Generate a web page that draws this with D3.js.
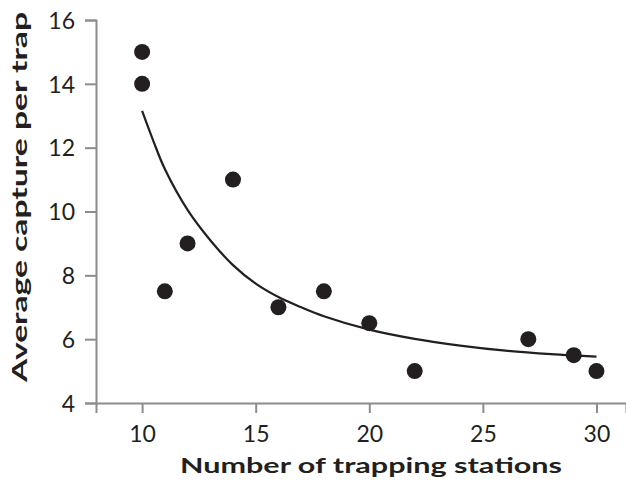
<!DOCTYPE html>
<html>
<head>
<meta charset="utf-8">
<script src="https://cdn.jsdelivr.net/npm/d3@7"></script>
<style>
  body { margin: 0; background: #fff; }
  text { font-family: Lato, "Open Sans", sans-serif; fill: #231f20; }
</style>
</head>
<body>
<div id="chart"></div>
<script>
// scatter of trap captures with the fitted curve
const width = 626;
const height = 487;
const margin = {left: 96, right: 0, top: 20, bottom: 84};

// observed points
const stations = [10, 10, 11, 12, 14, 16, 18, 20, 22, 27, 29, 30];
const capture = [15, 14, 7.5, 9, 11, 7, 7.5, 6.5, 5, 6, 5.5, 5];

// fitted curve
const fitX = [10, 10.5, 11, 12, 13, 14, 15, 16, 17, 18, 20, 22, 24, 26, 28, 30];
const fitY = [13.15, 12.2, 11.33, 10.05, 9.1, 8.32, 7.74, 7.32, 7.0, 6.72, 6.3, 6.01, 5.8, 5.64, 5.53, 5.45];

const xTicks = [10, 15, 20, 25, 30];
const yTicks = [4, 6, 8, 10, 12, 14, 16];

const svg = d3.select("#chart")
  .append("svg")
  .attr("width", width)
  .attr("height", height);

const xScale = d3.scaleLinear()
  .domain([7.97, 31.3])
  .range([margin.left, width - margin.right]);

const yScale = d3.scaleLinear()
  .domain([4, 16])
  .range([height - margin.bottom, margin.top]);

// x axis
const xAxis = svg.append("g")
  .attr("transform", `translate(0,${height - margin.bottom})`)
  .call(d3.axisBottom(xScale).tickValues(xTicks).tickSize(10).tickPadding(13));

// y axis
const yAxis = svg.append("g")
  .attr("transform", `translate(${margin.left},0)`)
  .call(d3.axisLeft(yScale).tickValues(yTicks).tickSize(11).tickPadding(10));

[xAxis, yAxis].forEach(g => {
  g.select(".domain").attr("stroke", "#8c8c8c").attr("stroke-width", 2);
  g.selectAll(".tick line").attr("stroke", "#8c8c8c").attr("stroke-width", 2);
  g.selectAll(".tick text")
    .attr("font-size", "23px")
    .attr("font-family", "Lato, sans-serif")
    .attr("fill", "#231f20");
});
yAxis.selectAll(".tick text").attr("dy", "0.36em");

// fitted line
const line = d3.line()
  .x((d, i) => xScale(fitX[i]))
  .y(d => yScale(d))
  .curve(d3.curveCatmullRom);

svg.append("path")
  .datum(fitY)
  .attr("d", line)
  .attr("fill", "none")
  .attr("stroke", "#231f20")
  .attr("stroke-width", 2.2);

// points
svg.selectAll(".dot")
  .data(stations)
  .enter()
  .append("circle")
    .attr("class", "dot")
    .attr("cx", d => xScale(d))
    .attr("cy", (d, i) => yScale(capture[i]))
    .attr("r", 8)
    .attr("fill", "#231f20");

// axis titles
svg.append("text")
  .attr("x", 371)
  .attr("y", 473)
  .attr("text-anchor", "middle")
  .attr("font-family", "'DejaVu Sans', sans-serif")
  .attr("font-size", "21px")
  .attr("font-weight", "bold")
  .attr("textLength", 382)
  .attr("lengthAdjust", "spacingAndGlyphs")
  .text("Number of trapping stations");

svg.append("text")
  .attr("transform", "translate(27,197) rotate(-90)")
  .attr("text-anchor", "middle")
  .attr("font-family", "'DejaVu Sans', sans-serif")
  .attr("font-size", "21px")
  .attr("font-weight", "bold")
  .attr("textLength", 370)
  .attr("lengthAdjust", "spacingAndGlyphs")
  .text("Average capture per trap");
</script>
</body>
</html>
